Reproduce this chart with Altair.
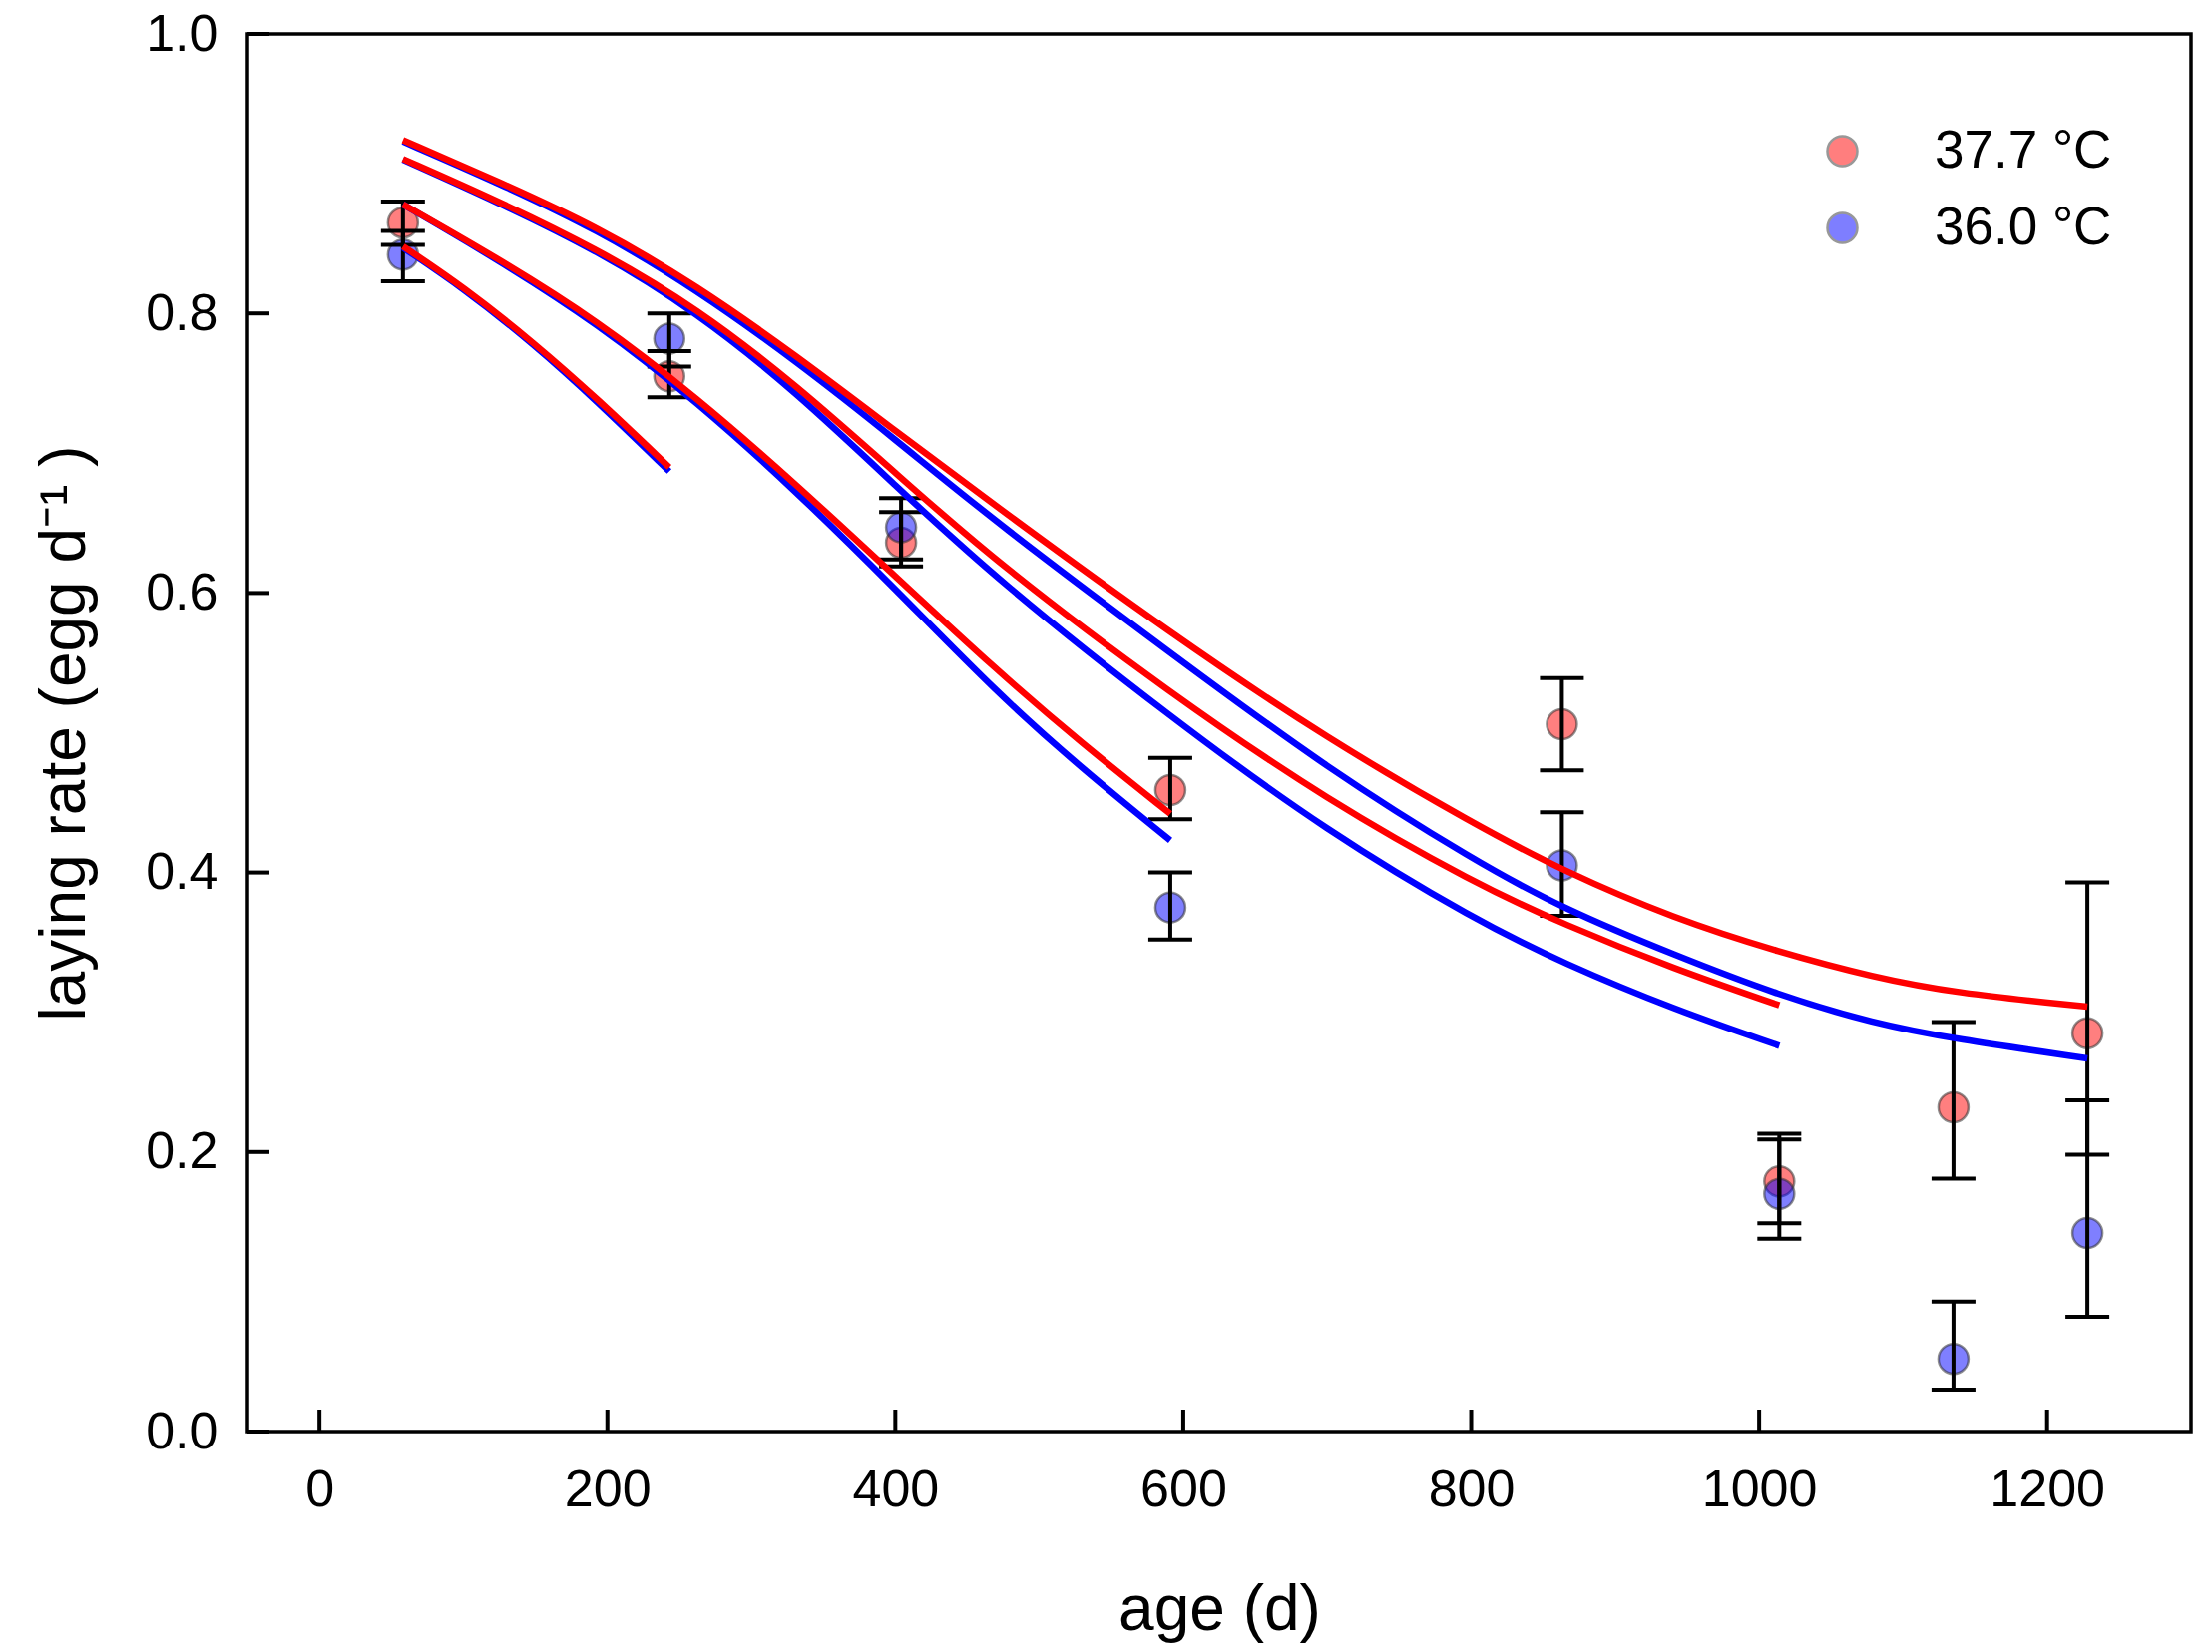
import altair as alt
import pandas as pd

# ---------------- data ----------------
series_names = ["37.7 °C", "36.0 °C"]
series_colors = ["#ff0000", "#0000ff"]

ages = [58, 243, 404, 591, 863, 1014, 1135, 1228]

red_mean = [0.865, 0.755, 0.636, 0.459, 0.506, 0.179, 0.232, 0.285]
red_lo = [0.849, 0.740, 0.619, 0.438, 0.473, 0.149, 0.181, 0.198]
red_hi = [0.880, 0.773, 0.658, 0.482, 0.539, 0.213, 0.293, 0.393]

blue_mean = [0.842, 0.782, 0.647, 0.375, 0.405, 0.170, 0.052, 0.142]
blue_lo = [0.823, 0.762, 0.624, 0.352, 0.369, 0.138, 0.030, 0.082]
blue_hi = [0.859, 0.800, 0.668, 0.400, 0.443, 0.209, 0.093, 0.237]

# fitted curves (four fits per temperature, ending at successive ages)
fit_a_age = [58, 100, 149, 193, 243]
fit_a_red = [0.848, 0.819, 0.779, 0.739, 0.690]
fit_a_blue = [0.847, 0.818, 0.778, 0.737, 0.687]

fit_b_age = [58, 123, 193, 262, 331, 400, 470, 530, 591]
fit_b_red = [0.878, 0.840, 0.795, 0.740, 0.678, 0.612, 0.545, 0.492, 0.442]
fit_b_blue = [0.878, 0.839, 0.793, 0.737, 0.673, 0.603, 0.529, 0.474, 0.423]

fit_c_age = [58, 123, 193, 262, 331, 400, 470, 591, 701, 803, 864, 941, 1014]
fit_c_red = [0.9105, 0.881, 0.846, 0.804, 0.749, 0.686, 0.622, 0.528, 0.451, 0.392, 0.363, 0.331, 0.305]
fit_c_blue = [0.910, 0.880, 0.845, 0.801, 0.744, 0.677, 0.610, 0.511, 0.4285, 0.366, 0.335, 0.302, 0.276]

fit_d_age = [58, 123, 193, 262, 331, 400, 470, 591, 701, 803, 864, 941, 1014, 1080, 1135, 1228]
fit_d_red = [0.924, 0.895, 0.862, 0.820, 0.770, 0.716, 0.662, 0.571, 0.495, 0.434, 0.401, 0.367, 0.343, 0.325, 0.314, 0.304]
fit_d_blue = [0.923, 0.894, 0.860, 0.817, 0.766, 0.710, 0.6505, 0.557, 0.4736, 0.408, 0.374, 0.341, 0.312, 0.292, 0.281, 0.267]

x_ticks = [0, 200, 400, 600, 800, 1000, 1200]
y_ticks = [0.0, 0.2, 0.4, 0.6, 0.8, 1.0]

# ---------------- tables ----------------
pt_rows = []
cap_rows = []
for name, m, lo, hi in [(series_names[0], red_mean, red_lo, red_hi),
                        (series_names[1], blue_mean, blue_lo, blue_hi)]:
    for a, mm, l, h in zip(ages, m, lo, hi):
        pt_rows.append(dict(series=name, age=a, rate=mm, lo=l, hi=h))
        cap_rows.append(dict(series=name, age=a, rate=l))
        cap_rows.append(dict(series=name, age=a, rate=h))
pts = pd.DataFrame(pt_rows)
caps = pd.DataFrame(cap_rows)

fit_rows = []
for cid, xs, r, b in [("a", fit_a_age, fit_a_red, fit_a_blue),
                      ("b", fit_b_age, fit_b_red, fit_b_blue),
                      ("c", fit_c_age, fit_c_red, fit_c_blue),
                      ("d", fit_d_age, fit_d_red, fit_d_blue)]:
    for a, yr, yb in zip(xs, r, b):
        fit_rows.append(dict(curve=cid + "r", series=series_names[0], age=a, rate=yr))
        fit_rows.append(dict(curve=cid + "b", series=series_names[1], age=a, rate=yb))
fits = pd.DataFrame(fit_rows)

xt = pd.DataFrame({"age": x_ticks})
yt = pd.DataFrame({"rate": y_ticks})

# ---------------- chart ----------------
W, H = 1948, 1401
FONT = "Liberation Sans"

xscale = alt.Scale(domain=[-50, 1300], nice=False, zero=False)
yscale = alt.Scale(domain=[0, 1], nice=False, zero=False)

x_axis = alt.Axis(values=x_ticks, format="d", ticks=False, domain=False, grid=False,
                  labelFontSize=52, labelPadding=33, labelFont=FONT, labelColor="black",
                  labelFlush=False, labelOverlap=False,
                  titleFontSize=64, titleFont=FONT, titleFontWeight="normal", titleColor="black",
                  titleY=198, titleBaseline="alphabetic")
y_axis = alt.Axis(values=y_ticks, format=".1f", ticks=False, domain=False, grid=False,
                  labelFontSize=52, labelPadding=30, labelFont=FONT, labelColor="black",
                  labelFlush=False, labelOverlap=False,
                  titleFontSize=64, titleFont=FONT, titleFontWeight="normal", titleColor="black",
                  titleAngle=270, titleX=-164, titleY=H / 2, titleBaseline="alphabetic",
                  titleAlign="center")

XT = "age (d)"
YT = "laying rate (egg d⁻¹ )"


def X(field):
    return alt.X(field, scale=xscale, axis=x_axis, title=XT)


def Y(field):
    return alt.Y(field, scale=yscale, axis=y_axis, title=YT)


fill_scale = alt.Scale(domain=series_names, range=series_colors)

points = alt.Chart(pts).mark_point(
    shape="circle", filled=True, size=900, fillOpacity=0.5,
    stroke="#333333", strokeOpacity=0.55, strokeWidth=2.5
).encode(
    x=X("age:Q"), y=Y("rate:Q"),
    fill=alt.Fill("series:N", scale=fill_scale,
                  legend=alt.Legend(orient="none", legendX=1572, legendY=91, title=None,
                                    labelFontSize=53, labelFont=FONT, labelColor="black",
                                    labelLimit=600,
                                    symbolType="circle", symbolSize=900, symbolOpacity=0.5,
                                    symbolStrokeColor="#333333", symbolStrokeWidth=2.5,
                                    labelOffset=66, rowPadding=23, padding=0)),
    order=alt.Order("series:N", sort="descending"),
)

bars = alt.Chart(pts).mark_rule(color="black", strokeWidth=4).encode(
    x=X("age:Q"), y=Y("lo:Q"), y2="hi:Q"
)

cap_marks = alt.Chart(caps).mark_tick(
    orient="horizontal", color="black", size=44, thickness=4, opacity=1
).encode(x=X("age:Q"), y=Y("rate:Q"))

blue_lines = alt.Chart(fits).transform_filter(
    alt.datum.series == series_names[1]
).mark_line(color=series_colors[1], strokeWidth=6.5, interpolate="basis").encode(
    x=X("age:Q"), y=Y("rate:Q"), detail="curve:N"
)

red_lines = alt.Chart(fits).transform_filter(
    alt.datum.series == series_names[0]
).mark_line(color=series_colors[0], strokeWidth=6.5, interpolate="basis").encode(
    x=X("age:Q"), y=Y("rate:Q"), detail="curve:N"
)

xtick_marks = alt.Chart(xt).mark_rule(color="black", strokeWidth=4).encode(
    x=X("age:Q"), y=alt.value(H - 22), y2=alt.value(H)
)
ytick_marks = alt.Chart(yt).mark_rule(color="black", strokeWidth=4).encode(
    y=Y("rate:Q"), x=alt.value(0), x2=alt.value(22)
)

chart = alt.layer(
    points, bars, cap_marks, blue_lines, red_lines, xtick_marks, ytick_marks
).properties(
    width=W, height=H,
    autosize=alt.AutoSizeParams(type="none"),
    padding={"left": 240, "top": 26, "right": 13, "bottom": 213},
    background="white",
).configure_view(
    stroke="black", strokeWidth=3.5
)

chart.save("out.html", embed_options={"renderer": "svg", "actions": False})
